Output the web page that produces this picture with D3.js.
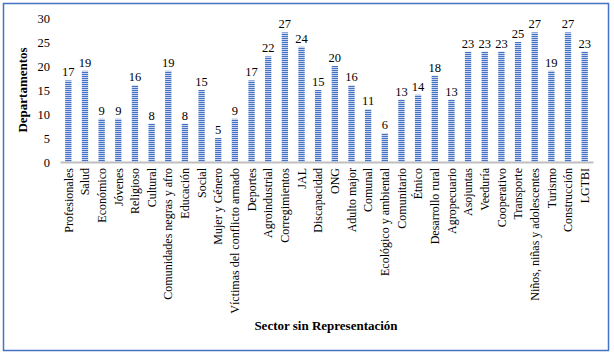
<!DOCTYPE html>
<html><head><meta charset="utf-8">
<script src="https://cdn.jsdelivr.net/npm/d3@7"></script>
<style>body{margin:0;background:#fff}svg{display:block}svg text{font-family:"Liberation Serif","Times New Roman",serif}</style>
</head><body>
<script>
const categories = ["Profesionales","Salud","Económico","Jóvenes","Religioso","Cultural","Comunidades negras y afro","Educación","Social","Mujer y Género","Víctimas del conflicto armado","Deportes","Agroindustrial","Corregimientos","JAL","Discapacidad","ONG","Adulto major","Comunal","Ecológico y ambiental","Comunitario","Étnico","Desarrollo rural","Agropecuario","Asojuntas","Veeduría","Cooperativo","Transporte","Niños, niñas y adolescentes","Turismo","Construcción","LGTBI"];
const values = [17,19,9,9,16,8,19,8,15,5,9,17,22,27,24,15,20,16,11,6,13,14,18,13,23,23,23,25,27,19,27,23];
const yTicks = [0,5,10,15,20,25,30];
const yTitle = "Departamentos";
const xTitle = "Sector sin Representación";

const W = 614, H = 359;
const svg = d3.select("body").append("svg").attr("width", W).attr("height", H);
const defs = svg.append("defs");
const pat = defs.append("pattern").attr("id","stripes").attr("patternUnits","userSpaceOnUse").attr("width",4).attr("height",2);
pat.append("rect").attr("width",4).attr("height",2).attr("fill","#c9d6ee");
pat.append("rect").attr("width",4).attr("height",1).attr("fill","#4472C4");

svg.append("rect").attr("x",3.5).attr("y",3.5).attr("width",605).attr("height",347)
  .attr("fill","#fff").attr("stroke","#4472C4").attr("stroke-width",1.5);

const x = d3.scaleBand().domain(categories).range([60,593]).paddingInner(0.62).paddingOuter(0.31);
const y = d3.scaleLinear().domain([0,30]).range([162,18]);

const yAxis = svg.append("g").attr("transform","translate(60,0)")
  .call(d3.axisLeft(y).tickValues(yTicks).tickSize(0).tickPadding(10));
yAxis.select(".domain").remove();
yAxis.selectAll("text").attr("font-size",12.5).attr("fill","#000");

svg.append("g").selectAll("rect").data(values).join("rect")
  .attr("x",(d,i)=>x(categories[i])).attr("width",x.bandwidth())
  .attr("y",d=>y(d)).attr("height",d=>y(0)-y(d)).attr("fill","url(#stripes)");

svg.append("g").selectAll("text").data(values).join("text")
  .attr("x",(d,i)=>x(categories[i])+x.bandwidth()/2).attr("y",d=>y(d)-4)
  .attr("text-anchor","middle").attr("font-size",12.5).attr("fill","#000")
  .text(d=>d);

const xAxis = svg.append("g").attr("transform","translate(0,162)")
  .call(d3.axisBottom(x).tickSize(0).tickPadding(0));
xAxis.select(".domain").attr("stroke","#bfbfbf").attr("stroke-width",2);
xAxis.selectAll("text").attr("font-size",12).attr("fill","#000")
  .attr("text-anchor","end").attr("dy","0.35em")
  .attr("transform","translate(0,6) rotate(-90)").attr("x",0).attr("y",0);

svg.append("text").attr("transform","translate(27,90) rotate(-90)").attr("text-anchor","middle")
  .attr("font-size",13).attr("font-weight","bold").text(yTitle);
svg.append("text").attr("x",326).attr("y",330).attr("text-anchor","middle")
  .attr("font-size",13).attr("font-weight","bold").text(xTitle);
</script>
</body></html>
